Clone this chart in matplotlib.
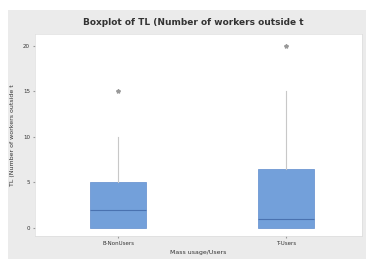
import matplotlib
matplotlib.use("Agg")
import matplotlib.pyplot as plt
from matplotlib.patches import Rectangle

groups = ["B-NonUsers", "T-Users"]
q1 = [0, 0]
medians = [2, 1]
q3 = [5, 6.5]
whisk_lo = [0, 0]
whisk_hi = [10, 15]
outliers = [[15], [20]]
yticks = [0, 5, 10, 15, 20]

fig = plt.figure(figsize=(3.66, 2.59), dpi=100)
fig.patches.append(Rectangle((8 / 366, 0), 1, 249 / 259, transform=fig.transFigure,
                             facecolor="#ebebeb", edgecolor="none", zorder=-1))
ax = fig.add_axes([0.0956, 0.089, 0.893, 0.78])

stats = []
for i, g in enumerate(groups):
    stats.append(dict(label=g, q1=q1[i], med=medians[i], q3=q3[i],
                      whislo=whisk_lo[i], whishi=whisk_hi[i], fliers=outliers[i]))

ax.bxp(stats, positions=[1, 2], widths=0.33, patch_artist=True, showcaps=False,
       boxprops=dict(facecolor="#73a0da", edgecolor="#6e98d2", linewidth=0.6),
       medianprops=dict(color="#4a72b0", linewidth=0.8),
       whiskerprops=dict(color="#c8c8c8", linewidth=0.8),
       flierprops=dict(marker="*", markersize=3, markerfacecolor="#999999",
                       markeredgecolor="#999999"))

ax.set_xlim(0.505, 2.45)
ax.set_ylim(-0.9, 21.3)
ax.set_yticks(yticks)
ax.tick_params(labelsize=4, length=1.5, color="#999999", pad=2, labelcolor="#333333")
for s in ax.spines.values():
    s.set_color("#dddddd")
    s.set_linewidth(0.5)
ax.set_ylabel("TL (Number of workers outside t", fontsize=4.5, labelpad=6, color="#333333")
ax.set_xlabel("Mass usage/Users", fontsize=4.5, labelpad=3, color="#333333")
fig.text(0.528, 0.915, "Boxplot of TL (Number of workers outside t",
         ha="center", va="center", fontsize=6.5, fontweight="bold", color="#333333")

fig.savefig("out.png", dpi=100)
